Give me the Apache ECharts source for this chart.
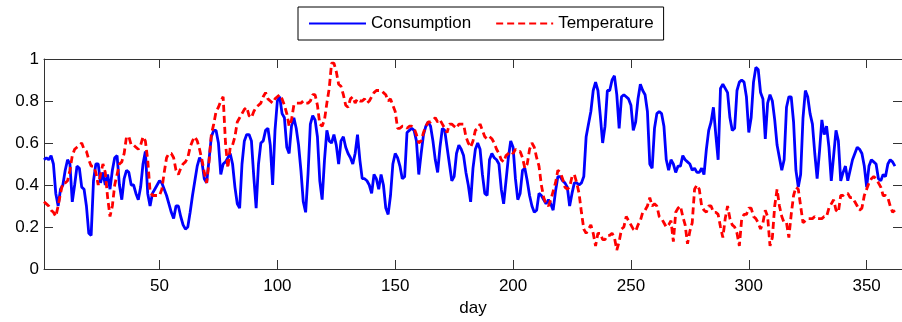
<!DOCTYPE html>
<html>
<head>
<meta charset="utf-8">
<script src="https://cdn.jsdelivr.net/npm/echarts@6/dist/echarts.min.js"></script>
<style>
  html, body { margin: 0; padding: 0; background: #fff; }
  #chart { width: 902px; height: 322px; }
</style>
</head>
<body>
<div id="chart"></div>
<script>
// daily values, first entry is day 1
const firstDay = 1;
const consumption = [
  0.52,0.53,0.52,0.54,0.50,0.36,0.30,0.38,0.40,0.47,
  0.52,0.50,0.32,0.40,0.49,0.48,0.39,0.38,0.30,0.17,
  0.16,0.42,0.50,0.50,0.41,0.46,0.40,0.45,0.38,0.47,
  0.53,0.54,0.40,0.33,0.43,0.47,0.46,0.40,0.40,0.36,
  0.33,0.39,0.50,0.56,0.36,0.30,0.36,0.38,0.40,0.42,
  0.41,0.38,0.35,0.31,0.27,0.24,0.30,0.30,0.25,0.21,
  0.19,0.20,0.27,0.35,0.42,0.49,0.53,0.51,0.43,0.41,
  0.52,0.63,0.66,0.66,0.60,0.45,0.50,0.51,0.53,0.55,
  0.50,0.39,0.31,0.29,0.50,0.61,0.64,0.64,0.61,0.44,
  0.29,0.50,0.60,0.61,0.66,0.67,0.59,0.40,0.66,0.80,
  0.82,0.74,0.72,0.58,0.55,0.68,0.72,0.67,0.59,0.47,
  0.32,0.27,0.45,0.69,0.73,0.71,0.63,0.42,0.33,0.52,
  0.66,0.61,0.60,0.64,0.59,0.50,0.61,0.63,0.58,0.55,
  0.53,0.50,0.55,0.64,0.52,0.43,0.43,0.42,0.40,0.36,
  0.45,0.43,0.38,0.45,0.40,0.29,0.26,0.35,0.50,0.55,
  0.53,0.49,0.43,0.44,0.65,0.66,0.67,0.66,0.61,0.45,
  0.55,0.64,0.68,0.70,0.68,0.61,0.52,0.46,0.58,0.67,
  0.66,0.58,0.50,0.42,0.44,0.55,0.59,0.57,0.54,0.46,
  0.40,0.32,0.48,0.57,0.60,0.57,0.45,0.36,0.35,0.52,
  0.55,0.53,0.52,0.50,0.38,0.31,0.42,0.53,0.61,0.58,
  0.43,0.33,0.36,0.47,0.48,0.42,0.35,0.30,0.27,0.28,
  0.36,0.35,0.33,0.31,0.33,0.31,0.28,0.37,0.44,0.44,
  0.42,0.41,0.39,0.30,0.36,0.41,0.41,0.40,0.41,0.44,
  0.63,0.69,0.75,0.85,0.89,0.85,0.73,0.60,0.68,0.85,
  0.85,0.90,0.92,0.83,0.67,0.82,0.83,0.82,0.81,0.78,
  0.66,0.70,0.81,0.88,0.85,0.83,0.75,0.50,0.48,0.67,
  0.74,0.75,0.74,0.68,0.52,0.47,0.52,0.50,0.46,0.49,
  0.49,0.54,0.52,0.51,0.50,0.47,0.48,0.46,0.46,0.48,
  0.45,0.57,0.66,0.70,0.77,0.64,0.52,0.86,0.88,0.86,
  0.84,0.72,0.66,0.67,0.85,0.89,0.90,0.89,0.82,0.65,
  0.72,0.89,0.96,0.95,0.84,0.81,0.62,0.79,0.83,0.80,
  0.71,0.59,0.53,0.47,0.52,0.77,0.82,0.82,0.70,0.47,
  0.39,0.45,0.72,0.85,0.82,0.74,0.69,0.55,0.43,0.56,
  0.71,0.64,0.68,0.58,0.42,0.54,0.66,0.61,0.42,0.46,
  0.49,0.42,0.47,0.52,0.55,0.58,0.57,0.55,0.49,0.39,
  0.49,0.52,0.51,0.50,0.43,0.42,0.45,0.44,0.50,0.52,
  0.51,0.49
];
const temperature = [
  0.32,0.31,0.30,0.28,0.27,0.25,0.30,0.36,0.41,0.41,
  0.42,0.47,0.54,0.57,0.58,0.59,0.60,0.57,0.56,0.52,
  0.49,0.49,0.46,0.40,0.45,0.50,0.46,0.34,0.25,0.30,
  0.40,0.45,0.50,0.51,0.55,0.63,0.63,0.59,0.59,0.58,
  0.57,0.59,0.63,0.61,0.52,0.37,0.35,0.35,0.35,0.35,
  0.38,0.46,0.53,0.55,0.55,0.53,0.47,0.45,0.48,0.50,
  0.51,0.53,0.58,0.61,0.63,0.61,0.57,0.52,0.46,0.41,
  0.51,0.64,0.69,0.75,0.77,0.80,0.82,0.60,0.48,0.58,
  0.59,0.63,0.70,0.72,0.74,0.76,0.77,0.73,0.72,0.75,
  0.77,0.78,0.79,0.82,0.84,0.81,0.80,0.79,0.81,0.82,
  0.83,0.81,0.78,0.74,0.68,0.71,0.78,0.79,0.79,0.79,
  0.80,0.79,0.79,0.80,0.83,0.83,0.78,0.69,0.68,0.71,
  0.79,0.86,0.98,0.98,0.94,0.88,0.87,0.83,0.78,0.77,
  0.81,0.82,0.79,0.81,0.80,0.80,0.81,0.79,0.80,0.82,
  0.84,0.85,0.85,0.85,0.84,0.83,0.80,0.81,0.78,0.75,
  0.67,0.67,0.68,0.68,0.67,0.68,0.68,0.67,0.64,0.60,
  0.61,0.65,0.68,0.70,0.70,0.71,0.72,0.70,0.71,0.69,
  0.67,0.65,0.69,0.69,0.68,0.67,0.69,0.69,0.69,0.63,
  0.60,0.58,0.61,0.66,0.67,0.69,0.66,0.63,0.62,0.63,
  0.62,0.60,0.57,0.55,0.52,0.51,0.54,0.55,0.56,0.55,
  0.57,0.56,0.56,0.53,0.48,0.50,0.57,0.60,0.58,0.53,
  0.49,0.40,0.34,0.31,0.30,0.33,0.37,0.41,0.47,0.46,
  0.43,0.39,0.38,0.39,0.44,0.45,0.41,0.36,0.27,0.19,
  0.17,0.19,0.21,0.17,0.11,0.17,0.17,0.14,0.14,0.16,
  0.16,0.17,0.15,0.09,0.13,0.19,0.20,0.25,0.23,0.21,
  0.19,0.18,0.21,0.23,0.27,0.28,0.30,0.34,0.30,0.31,
  0.30,0.25,0.24,0.22,0.20,0.21,0.23,0.13,0.27,0.29,
  0.30,0.25,0.21,0.12,0.18,0.22,0.38,0.40,0.38,0.30,
  0.28,0.27,0.30,0.30,0.27,0.27,0.26,0.20,0.15,0.24,
  0.30,0.24,0.21,0.20,0.17,0.11,0.24,0.26,0.26,0.29,
  0.29,0.25,0.24,0.22,0.19,0.22,0.28,0.25,0.11,0.15,
  0.30,0.38,0.30,0.25,0.22,0.22,0.15,0.26,0.35,0.39,
  0.38,0.30,0.22,0.23,0.24,0.24,0.24,0.25,0.24,0.24,
  0.24,0.25,0.25,0.29,0.31,0.33,0.28,0.27,0.35,0.35,
  0.36,0.36,0.34,0.34,0.32,0.30,0.28,0.29,0.35,0.38,
  0.41,0.43,0.44,0.43,0.41,0.39,0.35,0.35,0.34,0.30,
  0.27,0.28
];
const xTicks = [50, 100, 150, 200, 250, 300, 350];
const seriesNames = ['Consumption', 'Temperature'];

const toPoints = arr => arr.map((v, i) => [firstDay + i, v]);

const font = 'Liberation Sans, Arial, sans-serif';
const axisColor = '#333';

const chart = echarts.init(document.getElementById('chart'), null, { renderer: 'canvas' });

const baseX = {
  type: 'value',
  min: 1,
  max: 365,
  splitLine: { show: false },
  axisLine: { show: true, onZero: false, lineStyle: { color: axisColor, width: 1 } },
  axisTick: { show: true, inside: true, length: 9, customValues: xTicks, lineStyle: { color: axisColor } }
};
const baseY = {
  type: 'value',
  min: 0,
  max: 1,
  interval: 0.2,
  splitLine: { show: false },
  axisLine: { show: true, onZero: false, lineStyle: { color: axisColor, width: 1 } },
  axisTick: { show: true, inside: true, length: 9, lineStyle: { color: axisColor } }
};

chart.setOption({
  animation: false,
  backgroundColor: '#fff',
  textStyle: { fontFamily: font },
  grid: { left: 44, right: -9, top: 59, bottom: 50 },
  legend: {
    data: seriesNames,
    left: 298,
    top: 7,
    orient: 'horizontal',
    padding: [8, 10],
    itemWidth: 57,
    itemHeight: 14,
    itemGap: 24,
    borderColor: '#000',
    borderWidth: 1,
    backgroundColor: '#fff',
    // hide the marker dot, keep only the line
    itemStyle: { opacity: 0 },
    textStyle: { fontSize: 17, color: '#000', fontFamily: font }
  },
  xAxis: [
    Object.assign({}, baseX, {
      position: 'bottom',
      name: 'day',
      nameLocation: 'middle',
      nameGap: 31,
      nameTextStyle: { fontSize: 17, color: '#000', fontFamily: font },
      axisLabel: { show: true, customValues: xTicks, margin: 9, fontSize: 17, color: '#000', fontFamily: font }
    }),
    Object.assign({}, baseX, {
      position: 'top',
      axisLabel: { show: false }
    })
  ],
  yAxis: [
    Object.assign({}, baseY, {
      position: 'left',
      axisLabel: { show: true, margin: 5, fontSize: 17, color: '#000', fontFamily: font }
    }),
    Object.assign({}, baseY, {
      position: 'right',
      axisLabel: { show: false }
    })
  ],
  series: [
    {
      name: seriesNames[0],
      type: 'line',
      data: toPoints(consumption),
      symbol: 'none',
      showSymbol: false,
      lineStyle: { color: '#0000ff', width: 2.8 },
      itemStyle: { color: '#0000ff' },
      emphasis: { disabled: true },
      z: 2
    },
    {
      name: seriesNames[1],
      type: 'line',
      data: toPoints(temperature),
      symbol: 'none',
      showSymbol: false,
      lineStyle: { color: '#ff0000', width: 2.8, type: [7, 4] },
      itemStyle: { color: '#ff0000' },
      emphasis: { disabled: true },
      z: 3
    }
  ]
});
</script>
</body>
</html>
